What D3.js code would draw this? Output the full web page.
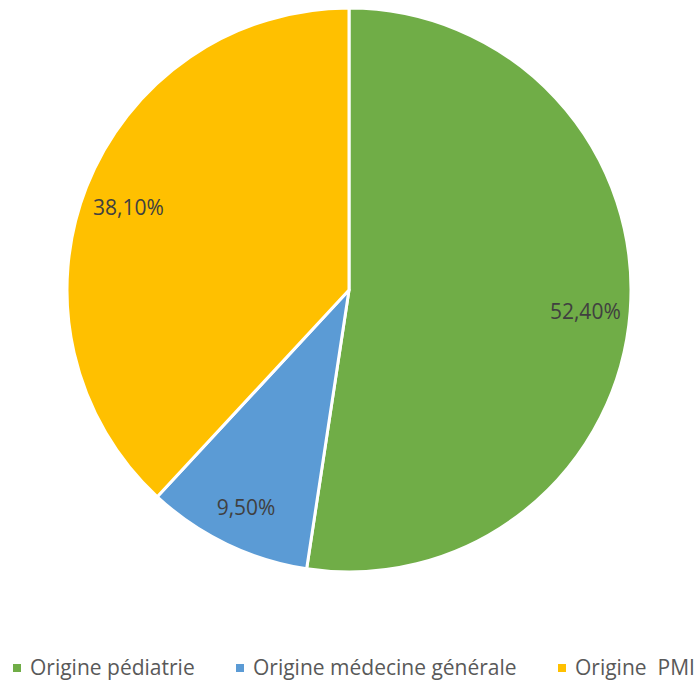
<!DOCTYPE html>
<html>
<head>
<meta charset="utf-8">
<script src="https://cdn.jsdelivr.net/npm/d3@7"></script>
<style>
  body { margin: 0; background: #fff; }
  svg text { font-family: "Open Sans", "Noto Sans", sans-serif; }
</style>
</head>
<body>
<svg id="chart" width="700" height="687"></svg>
<script>
// chart data
var categories = ['Origine pédiatrie', 'Origine médecine générale', 'Origine  PMI']
var values = [52.4, 9.5, 38.1]
var labels = ['52,40%', '9,50%', '38,10%']
var colors = ['#70ad47', '#5b9bd5', '#ffc000']

var cx = 349
var cy = 290
var radius = 282

var svg = d3.select('#chart')

var data = categories.map(function (c, i) {
  return {name: c, value: values[i], label: labels[i], color: colors[i]}
})

var pie = d3.pie()
  .sort(null)
  .value(function (d) { return d.value })

var arc = d3.arc()
  .innerRadius(0)
  .outerRadius(radius)

// labels sit around 84% of the radius
var labelArc = d3.arc()
  .innerRadius(237)
  .outerRadius(237)

var g = svg.append('g')
  .attr('transform', 'translate(' + cx + ',' + cy + ')')

var slices = pie(data)

g.selectAll('.slice')
    .data(slices)
  .enter().append('path')
    .attr('class', 'slice')
    .attr('d', arc)
    .attr('fill', function (d) { return d.data.color })
    .attr('stroke', '#fff')
    .attr('stroke-width', 3)
    .attr('stroke-linejoin', 'round')

g.selectAll('.slice-label')
    .data(slices)
  .enter().append('text')
    .attr('class', 'slice-label')
    .attr('transform', function (d) { return 'translate(' + labelArc.centroid(d) + ')' })
    .attr('text-anchor', 'middle')
    .attr('dy', '.55em')
    .attr('fill', '#404040')
    .style('font-size', '21px')
    .text(function (d) { return d.data.label })

// legend
var legendPos = [13, 236, 558]
var legend = svg.append('g')
  .attr('class', 'legend')

var item = legend.selectAll('.legend-item')
    .data(data)
  .enter().append('g')
    .attr('class', 'legend-item')
    .attr('transform', function (d, i) { return 'translate(' + legendPos[i] + ',668)' })

item.append('rect')
    .attr('x', 0)
    .attr('y', -4)
    .attr('width', 8)
    .attr('height', 8)
    .attr('fill', function (d) { return d.color })

item.append('text')
    .attr('x', 17)
    .attr('dy', '.35em')
    .attr('fill', '#595959')
    .style('font-size', '21px')
    .style('white-space', 'pre')
    .attr('xml:space', 'preserve')
    .text(function (d) { return d.name })
</script>
</body>
</html>
